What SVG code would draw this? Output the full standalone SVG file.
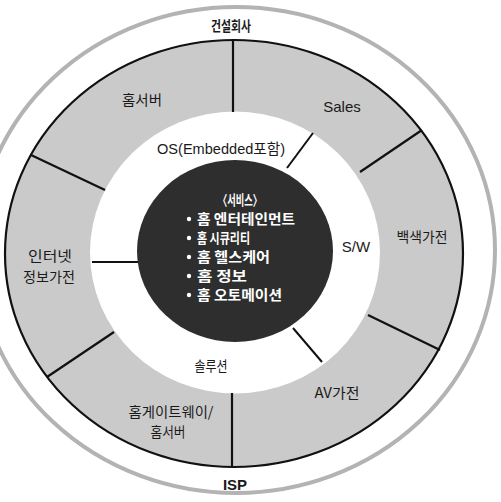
<svg xmlns="http://www.w3.org/2000/svg" width="501" height="502" viewBox="0 0 501 502">
  <style>
    .lbl { font-family: "Noto Sans CJK KR", "Liberation Sans", sans-serif; font-size: 14px; fill: #1a1a1a; text-anchor: middle; }
    .lat { font-family: "Liberation Sans", "Noto Sans CJK KR", sans-serif; font-size: 15px; fill: #1a1a1a; text-anchor: middle; }
    .bold { font-weight: bold; }
    .svc { font-family: "Noto Sans CJK KR", "Liberation Sans", sans-serif; font-size: 14px; fill: #ffffff; font-weight: bold; }
    .rad { stroke: #111; stroke-width: 2.2; fill: none; }
    .con { stroke: #111; stroke-width: 2; fill: none; }
  </style>
  <rect width="501" height="502" fill="#ffffff"/>

  <g id="rings">
    <ellipse cx="236" cy="250" rx="259" ry="243" fill="none" stroke="#b3b3b3" stroke-width="4"/>
    <ellipse cx="234" cy="253.5" rx="229" ry="213.5" fill="#cacaca" stroke="#111" stroke-width="2.2"/>
    <ellipse cx="235" cy="252.5" rx="145" ry="141" fill="#ffffff"/>
  </g>

  <g id="connectors">
    <line class="rad" x1="233" y1="40" x2="233" y2="112"/>
    <line class="rad" x1="31" y1="155" x2="105" y2="190"/>
    <line class="rad" x1="422" y1="130" x2="360" y2="172"/>
    <line class="rad" x1="440" y1="350" x2="368" y2="315"/>
    <line class="rad" x1="47" y1="377" x2="114" y2="332"/>
    <line class="rad" x1="232" y1="393" x2="232" y2="467"/>
    <line class="con" x1="287" y1="168" x2="313" y2="133"/>
    <line class="con" x1="92" y1="262" x2="140" y2="262"/>
    <line class="con" x1="293" y1="328" x2="322" y2="362"/>
  </g>

  <g id="center-services">
    <ellipse cx="235" cy="251" rx="98" ry="91" fill="#2e2e2e"/>
    <text class="svc" x="240" y="205" text-anchor="middle" textLength="44" lengthAdjust="spacingAndGlyphs">〈서비스〉</text>
    <circle cx="189" cy="219" r="2.2" fill="#fff"/>
    <text class="svc" x="197" y="224" textLength="98" lengthAdjust="spacingAndGlyphs">홈 엔터테인먼트</text>
    <circle cx="189" cy="238" r="2.2" fill="#fff"/>
    <text class="svc" x="197" y="243" textLength="53" lengthAdjust="spacingAndGlyphs">홈 시큐리티</text>
    <circle cx="189" cy="257" r="2.2" fill="#fff"/>
    <text class="svc" x="197" y="262" textLength="73" lengthAdjust="spacingAndGlyphs">홈 헬스케어</text>
    <circle cx="189" cy="276" r="2.2" fill="#fff"/>
    <text class="svc" x="197" y="281" textLength="50" lengthAdjust="spacingAndGlyphs">홈 정보</text>
    <circle cx="189" cy="295" r="2.2" fill="#fff"/>
    <text class="svc" x="197" y="300" textLength="85" lengthAdjust="spacingAndGlyphs">홈 오토메이션</text>
  </g>

  <g id="node-construction"><text class="lbl bold" x="231" y="31" font-size="15" textLength="40" lengthAdjust="spacingAndGlyphs">건설회사</text></g>
  <g id="node-isp"><text class="lat bold" x="235" y="490">ISP</text></g>
  <g id="node-homeserver"><text class="lbl" x="142" y="105" textLength="40" lengthAdjust="spacingAndGlyphs">홈서버</text></g>
  <g id="node-sales"><text class="lat" x="342" y="112">Sales</text></g>
  <g id="node-os"><text class="lat" x="221" y="154" font-size="14" textLength="128" lengthAdjust="spacingAndGlyphs">OS(Embedded포함)</text></g>
  <g id="node-white-appliance"><text class="lbl" x="422" y="242" textLength="51" lengthAdjust="spacingAndGlyphs">백색가전</text></g>
  <g id="node-sw"><text class="lat" x="356" y="252">S/W</text></g>
  <g id="node-internet-appliance">
    <text class="lbl" x="50" y="261" textLength="44" lengthAdjust="spacingAndGlyphs">인터넷</text>
    <text class="lbl" x="49" y="282" textLength="52" lengthAdjust="spacingAndGlyphs">정보가전</text>
  </g>
  <g id="node-solution"><text class="lbl" x="211" y="371" textLength="33" lengthAdjust="spacingAndGlyphs">솔루션</text></g>
  <g id="node-av"><text class="lbl" x="337" y="398" font-size="15" textLength="45" lengthAdjust="spacingAndGlyphs">AV가전</text></g>
  <g id="node-gateway">
    <text class="lbl" x="171" y="417" textLength="85" lengthAdjust="spacingAndGlyphs">홈게이트웨이/</text>
    <text class="lbl" x="168" y="437" textLength="35" lengthAdjust="spacingAndGlyphs">홈서버</text>
  </g>
</svg>
